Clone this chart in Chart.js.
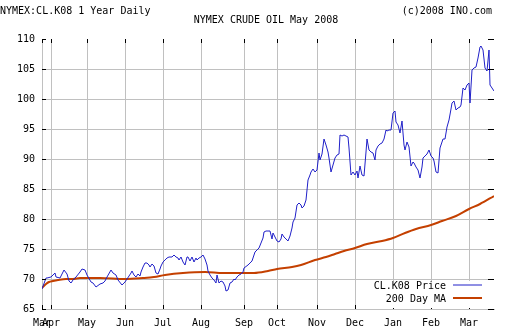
<!DOCTYPE html>
<html lang="en">
<head>
    <meta charset="UTF-8">
    <title>NYMEX Crude Oil May 2008</title>
    <script src="https://cdn.jsdelivr.net/npm/chart.js"></script>
    <style>
        body {
            margin: 0;
            padding: 0;
            background-color: #ffffff;
        }

        canvas {
            display: block;
        }
    </style>
</head>
<body>
    <canvas id="oilChart" width="512" height="336"></canvas>

    <script>
        // trading day index (0 = late Mar 2007) and settle price
        const priceDays = [
            0, 2, 3, 5, 7, 8, 10, 11, 12, 14, 15, 16, 17, 19, 21, 22, 24, 25, 27, 28,
            30, 32, 34, 35, 36, 38, 39, 41, 42, 44, 46, 48, 49, 50, 51, 52, 53, 54, 55, 56,
            57, 58, 59, 60, 61, 62, 63, 64, 65, 66, 67, 69, 70, 72, 73, 74, 75, 76, 77, 78,
            79, 80, 81, 82, 83, 84, 85, 86, 87, 88, 89, 90, 91, 92, 93, 94, 95, 96, 97, 98,
            99, 100, 101, 102, 103, 104, 105, 106, 107, 108, 109, 110, 111, 112, 114, 115, 116, 117, 118, 119,
            120, 121, 122, 123, 124, 125, 126, 127, 128, 129, 130, 131, 132, 133, 134, 135, 136, 137, 138, 139,
            140, 141, 142, 143, 144, 145, 146, 147, 148, 149, 150, 151, 152, 153, 154, 155, 156, 157, 158, 159,
            160, 161, 162, 163, 164, 165, 166, 167, 168, 169, 170, 171, 172, 173, 174, 175, 176, 177, 178, 179,
            180, 181, 182, 183, 184, 185, 186, 187, 188, 189, 190, 191, 192, 193, 194, 195, 196, 197, 198, 199,
            200, 201, 202, 203, 204, 205, 206, 207, 208, 209, 210, 211, 212, 213, 214, 215, 216, 217, 218, 219,
            220, 221, 222, 223, 224, 225, 226, 227, 228, 229, 230, 231, 232, 233, 234, 235, 236, 237, 238, 239,
            240, 241, 242, 243, 244, 245, 246, 247, 248, 249, 250
        ];
        const priceValues = [
            68.3, 70.1, 70.2, 70.4, 70.95, 70.4, 70.1, 70.8, 71.5, 70.8, 69.67, 69.3, 69.8, 70.4, 71.2, 71.7, 71.5, 70.7, 69.55, 69.3,
            68.7, 69.1, 69.3, 69.7, 70.4, 71.5, 70.95, 70.7, 69.8, 69.0, 69.5, 70.5, 70.95, 71.4, 70.6, 70.4, 70.8, 70.5, 71.1, 72.05,
            72.6, 72.7, 72.3, 72.05, 72.5, 72.2, 71.05, 70.8, 71.6, 72.2, 72.9, 73.45, 73.6, 73.6, 73.95, 73.6, 73.45, 73.2, 73.6, 72.9,
            72.3, 73.7, 73.7, 73.05, 73.7, 72.9, 73.45, 73.2, 73.45, 73.7, 74.0, 73.4, 72.3, 71.4, 70.75, 70.1, 69.8, 69.4, 70.7, 69.3,
            69.7, 69.55, 68.8, 68.05, 68.15, 69.3, 69.55, 69.95, 69.8, 70.3, 70.7, 70.8, 71.2, 71.8, 72.35, 72.7, 73.05, 74.0, 74.55, 74.8,
            75.1, 75.95, 76.8, 77.9, 78.05, 78.05, 78.0, 76.7, 77.7, 77.0, 76.4, 76.1, 76.7, 77.5, 77.0, 76.7, 76.3, 77.2, 78.5, 79.5,
            80.1, 82.3, 82.7, 82.3, 81.9, 82.2, 83.2, 86.5, 87.3, 87.9, 88.4, 87.9, 88.2, 91.05, 89.8, 90.9, 93.3, 92.3, 91.2, 90.1,
            87.9, 89.0, 90.1, 90.7, 90.9, 94.0, 93.8, 94.0, 93.8, 93.7, 91.8, 87.3, 87.9, 87.3, 88.05, 86.8, 88.8, 87.3, 87.2, 91.2,
            93.3, 91.5, 91.2, 91.05, 89.9, 91.5, 92.2, 92.5, 92.7, 93.4, 94.9, 94.7, 94.8, 94.9, 97.6, 98.05, 96.2, 95.7, 94.3, 96.4,
            92.3, 91.5, 92.9, 92.05, 88.8, 89.55, 89.3, 88.6, 88.2, 86.8, 88.6, 90.1, 90.5, 90.9, 91.5, 90.55, 90.2, 89.7, 87.9, 87.6,
            91.8, 92.8, 93.3, 93.4, 95.4, 96.5, 98.3, 99.4, 99.7, 98.2, 98.55, 98.7, 99.0, 101.8, 101.5, 102.3, 102.6, 99.3, 104.8, 105.1,
            105.4, 106.9, 108.7, 108.8, 108.2, 105.1, 104.6, 108.2, 102.3, 101.9, 101.3
        ];

        // 200 day moving average
        const maDays = [
            0, 2, 4, 6, 9, 13, 17, 21, 27, 32, 46, 56, 62, 68, 78, 90, 100, 111, 117, 125,
            130, 138, 143, 151, 157, 162, 167, 173, 180, 188, 194, 201, 207, 215, 221, 229, 236, 242, 250
        ];
        const maValues = [
            68.5, 69.1, 69.45, 69.67, 69.83, 69.95, 70.0, 70.1, 70.2, 70.1, 70.05, 70.1, 70.4, 70.6, 70.95, 71.1, 71.05, 70.95, 71.05, 71.4,
            71.6, 72.05, 72.33, 73.15, 73.7, 74.2, 74.7, 75.2, 75.8, 76.3, 76.9, 77.6, 78.3, 79.0, 79.7, 80.5, 81.7, 82.5, 83.9
        ];

        // month starts on the trading day axis
        const monthTicks = [0, 5, 25, 46, 67, 88, 112, 130, 152, 173, 194, 215, 236];
        const monthLabels = ['Mar', 'Apr', 'May', 'Jun', 'Jul', 'Aug', 'Sep', 'Oct', 'Nov', 'Dec', 'Jan', 'Feb', 'Mar'];

        const yMin = 65;
        const yMax = 110;
        const yStep = 5;

        const monoFont = '10px "DejaVu Sans Mono"';
        const gridGray = '#c0c0c0';

        // black tick marks inside the frame, header texts and the legend box
        const frameExtras = {
            id: 'frameExtras',
            afterDraw(chart) {
                const ctx = chart.ctx;
                const area = chart.chartArea;
                const xScale = chart.scales.x;
                const yScale = chart.scales.y;

                ctx.save();
                ctx.strokeStyle = '#000000';
                ctx.lineWidth = 1;
                ctx.beginPath();
                xScale.ticks.forEach(t => {
                    const px = Math.round(xScale.getPixelForValue(t.value)) + 0.5;
                    ctx.moveTo(px, area.top);
                    ctx.lineTo(px, area.top + 4);
                    ctx.moveTo(px, area.bottom - 4);
                    ctx.lineTo(px, area.bottom);
                });
                yScale.ticks.forEach(t => {
                    const py = Math.round(yScale.getPixelForValue(t.value)) + 0.5;
                    ctx.moveTo(area.left, py);
                    ctx.lineTo(area.left + 4, py);
                    ctx.moveTo(area.right - 6, py);
                    ctx.lineTo(area.right, py);
                });
                ctx.stroke();

                // header
                ctx.fillStyle = '#000000';
                ctx.font = monoFont;
                ctx.textBaseline = 'middle';
                ctx.textAlign = 'left';
                ctx.fillText('NYMEX:CL.K08 1 Year Daily', 0, 11);
                ctx.textAlign = 'right';
                ctx.fillText('(c)2008 INO.com', 492, 11);
                ctx.textAlign = 'center';
                ctx.fillText('NYMEX CRUDE OIL May 2008', 266, 20);

                // legend in the lower right corner of the plot
                ctx.fillStyle = '#ffffff';
                ctx.fillRect(area.right - 128, area.bottom - 28, 126, 27);
                chart.data.datasets.forEach((ds, i) => {
                    const rowY = area.bottom - 23 + i * 13;
                    ctx.fillStyle = '#000000';
                    ctx.textAlign = 'right';
                    ctx.fillText(ds.label, area.right - 48, rowY);
                    ctx.strokeStyle = ds.borderColor;
                    ctx.lineWidth = ds.borderWidth;
                    ctx.beginPath();
                    ctx.moveTo(area.right - 41, rowY - 1);
                    ctx.lineTo(area.right - 12, rowY - 1);
                    ctx.stroke();
                });
                ctx.restore();
            }
        };

        const ctxOil = document.getElementById('oilChart').getContext('2d');
        new Chart(ctxOil, {
            type: 'line',
            data: {
                datasets: [{
                    label: 'CL.K08 Price',
                    data: priceDays.map((d, i) => ({ x: d, y: priceValues[i] })),
                    borderColor: '#2020c8',
                    borderWidth: 1,
                    pointRadius: 0,
                    tension: 0
                }, {
                    label: '200 Day MA',
                    data: maDays.map((d, i) => ({ x: d, y: maValues[i] })),
                    borderColor: '#c44000',
                    borderWidth: 2,
                    pointRadius: 0,
                    cubicInterpolationMode: 'monotone'
                }]
            },
            options: {
                responsive: false,
                animation: false,
                events: [],
                layout: {
                    padding: { top: 39, left: 0, right: 18, bottom: 0 }
                },
                plugins: {
                    legend: { display: false },
                    title: { display: false },
                    tooltip: { enabled: false }
                },
                scales: {
                    x: {
                        type: 'linear',
                        min: 0,
                        max: 250,
                        alignToPixels: true,
                        afterBuildTicks: scale => {
                            scale.ticks = monthTicks.map(v => ({ value: v }));
                        },
                        afterFit: scale => {
                            scale.height = 27;
                        },
                        ticks: {
                            autoSkip: false,
                            maxRotation: 0,
                            padding: 8,
                            color: '#000000',
                            font: { family: 'DejaVu Sans Mono', size: 10 },
                            callback: (value, index) => monthLabels[index]
                        },
                        grid: {
                            color: gridGray,
                            lineWidth: 1,
                            drawTicks: false
                        },
                        border: { color: gridGray }
                    },
                    y: {
                        min: yMin,
                        max: yMax,
                        alignToPixels: true,
                        afterFit: scale => {
                            scale.width = 42;
                        },
                        ticks: {
                            stepSize: yStep,
                            padding: 7,
                            color: '#000000',
                            font: { family: 'DejaVu Sans Mono', size: 10 }
                        },
                        grid: {
                            color: c => (c.tick && c.tick.value === yMax) ? 'rgba(0,0,0,0)' : gridGray,
                            lineWidth: 1,
                            drawTicks: false
                        },
                        border: { display: false }
                    }
                }
            },
            plugins: [frameExtras]
        });
    </script>
</body>
</html>
